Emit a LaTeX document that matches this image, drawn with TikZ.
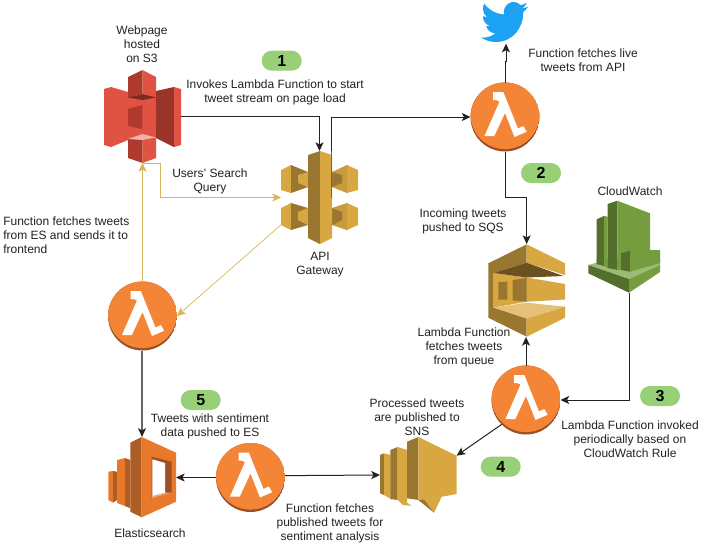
\documentclass[tikz,border=0pt]{standalone}
\usepackage{fontspec}
\setmainfont{Liberation Sans}
\usetikzlibrary{arrows.meta,calc}
\definecolor{txt}{HTML}{222222}
\definecolor{ln}{HTML}{222222}
\definecolor{lnsoft}{HTML}{666666}
\definecolor{yel}{HTML}{D6B656}
\definecolor{pillg}{HTML}{97D077}
\definecolor{rA}{HTML}{E05243}
\definecolor{rB}{HTML}{B0392D}
\definecolor{rC}{HTML}{9A3328}
\definecolor{rD}{HTML}{7C2A20}
\definecolor{rE}{HTML}{F2B0A9}
\definecolor{gA}{HTML}{D9A741}
\definecolor{gF}{HTML}{C99A3B}
\definecolor{gB}{HTML}{997730}
\definecolor{gC}{HTML}{6B5120}
\definecolor{gE}{HTML}{E6C077}
\definecolor{vA}{HTML}{759C3E}
\definecolor{vB}{HTML}{546F2C}
\definecolor{vC}{HTML}{9DBB74}
\definecolor{oA}{HTML}{F58536}
\definecolor{oB}{HTML}{9D5025}
\definecolor{eA}{HTML}{E8792B}
\definecolor{eB}{HTML}{AD5E24}
\definecolor{eC}{HTML}{F2A76E}
\definecolor{tw}{HTML}{1DA1F2}
\tikzset{
  lab/.style={font=\fontsize{9}{10.5}\selectfont,text=txt,align=center,inner sep=0pt},
  pill/.style={rounded corners=7.5pt,fill=pillg,minimum width=30pt,minimum height=15pt,inner sep=0pt,font=\fontsize{12}{14}\selectfont\bfseries},
  box/.style={inner sep=0pt,outer sep=0pt,rectangle},
  lam/.style={circle,inner sep=0pt,outer sep=0pt,minimum size=51.75pt},
  conn/.style={draw=ln,line width=.75pt,-{Stealth[length=6.5pt,width=6pt,inset=1.6pt]}},
  softconn/.style={draw=lnsoft,line width=1pt,-{Stealth[length=6.5pt,width=6pt,inset=1.6pt,color=ln]}},
  yconn/.style={draw=yel,line width=.75pt,-{Stealth[length=6.5pt,width=6pt,inset=1.6pt]}},
  yconnthin/.style={draw=yel,line width=.5pt,-{Stealth[length=6.5pt,width=6pt,inset=1.6pt]}}
}
\newcommand{\lambdaicon}[1]{%
  \begin{scope}[shift={(#1)}]
    \begin{scope}
      \clip (0,0) circle[radius=34.5];
      \fill[oB] (0,0) circle[radius=34.5];
      \fill[oA] (0,-2.4) circle[radius=34.5];
    \end{scope}
    \fill[white] (-12,-25)--(-1.7,-25)--(13,11.5)--(18.3,9)--(21.7,14.7)--(9.5,20)--(0,-4)--(-10.7,19)--(-20.5,19)--(-5.5,-15.5)--(-9,-17)--(-12,-17)--cycle;
  \end{scope}}
\begin{document}
\begin{tikzpicture}[x=.75pt,y=-.75pt]
\fill[white] (0,0) rectangle (704,544);
\useasboundingbox (0,0) rectangle (704,544);
% anchors for the icons
\node[box,minimum width=57.75pt,minimum height=69.75pt] (s3) at (142.5,116.5) {};
\node[box,minimum width=57.75pt,minimum height=69.75pt] (api) at (319.5,197.5) {};
\node[box,minimum width=35pt,minimum height=31pt] (bird) at (505,23) {};
\node[box,minimum width=57.75pt,minimum height=69.75pt] (sqs) at (526.7,290.5) {};
\node[box,minimum width=54pt,minimum height=69pt] (cw) at (624,246.7) {};
\node[box,minimum width=57.5pt,minimum height=57pt] (sns) at (418.3,475) {};
\node[box,minimum width=51pt,minimum height=60.5pt] (es) at (142,477.2) {};
\node[lam] (lamA) at (505,117) {};
\node[lam] (lamB) at (142.5,316) {};
\node[lam] (lamC) at (526,400) {};
\node[lam] (lamD) at (250.5,477.5) {};
% S3
\fill[rA] (128,96)--(156,96)--(156,140)--(128,140)--cycle;
\fill[rA] (104,89)--(111,87)--(128,92)--(128,140)--(111,147)--(104,145)--cycle;
\fill[rC] (156,91)--(174,87)--(174,147)--(156,138)--cycle;
\fill[rA] (181,89)--(174,87)--(174,147)--(181,145)--cycle;
\fill[rB] (128,77)--(142.5,70)--(142.5,94)--(128,97.5)--cycle;
\fill[rA] (156,77)--(142.5,70)--(142.5,94)--(156,97.5)--cycle;
\fill[rD] (128,97.5)--(142.5,94)--(156,97.5)--(142.5,100)--cycle;
\fill[rB] (128,109)--(142.5,105)--(142.5,129)--(128,126)--cycle;
\fill[rA] (156,109)--(142.5,105)--(142.5,129)--(156,126)--cycle;
\fill[rB] (128,139)--(142.5,140)--(142.5,163)--(128,158)--cycle;
\fill[rA] (156,139)--(142.5,140)--(142.5,163)--(156,158)--cycle;
\fill[rE] (128,139)--(142.5,134)--(156,137.5)--(142.5,140)--cycle;
% API gateway
\fill[gA] (281,170)--(291,165)--(291,193)--(281,190)--cycle;
\fill[gB] (291,165)--(308,172)--(308,187)--(291,193)--cycle;
\fill[gA] (358,170)--(347,165)--(347,193)--(358,190)--cycle;
\fill[gF] (347,165)--(332,172)--(332,187)--(347,193)--cycle;
\fill[gA] (281,208)--(291,203)--(291,230)--(281,225)--cycle;
\fill[gB] (291,203)--(308,208)--(308,225)--(291,230)--cycle;
\fill[gA] (358,208)--(347,203)--(347,230)--(358,225)--cycle;
\fill[gF] (347,203)--(332,208)--(332,225)--(347,230)--cycle;
\fill[gA] (298,175)--(308,172)--(308,187)--(298,183)--cycle;
\fill[gA] (298,212)--(308,208)--(308,225)--(298,220)--cycle;
\fill[gB] (342,175)--(332,172)--(332,187)--(342,183)--cycle;
\fill[gB] (342,212)--(332,208)--(332,225)--(342,220)--cycle;
\fill[gB] (308,155)--(320,151)--(320,244)--(308,238)--cycle;
\fill[gA] (332,155)--(320,151)--(320,244)--(332,238)--cycle;
% Twitter
\begin{scope}[shift={(481,-2.6)},xscale=1.96,yscale=2.05]
\fill[tw] (23.953,4.57) .. controls (23.1,4.95) and (22.1,5.22) .. (21.128,5.345)
 .. controls (22.1,4.76) and (22.9,3.78) .. (23.291,2.622)
 .. controls (22.34,3.177) and (21.286,3.581) .. (20.164,3.806)
 .. controls (18.645,2.178) and (16.226,1.781) .. (14.26,2.826)
 .. controls (12.294,3.871) and (11.279,6.119) .. (11.78,8.288)
 .. controls (7.69,8.095) and (4.067,6.13) .. (1.64,3.162)
 .. controls (1.22,3.88) and (0.974,4.73) .. (0.974,5.637)
 .. controls (0.974,7.347) and (1.844,8.85) .. (3.162,9.733)
 .. controls (2.37,9.71) and (1.6,9.49) .. (0.934,9.117)
 -- (0.934,9.177)
 .. controls (0.934,11.56) and (2.63,13.55) .. (4.88,14.004)
 .. controls (4.15,14.2) and (3.4,14.23) .. (2.668,14.089)
 .. controls (3.3,16.07) and (5.15,17.47) .. (7.272,17.506)
 .. controls (5.6,18.82) and (3.47,19.611) .. (1.17,19.611)
 .. controls (0.78,19.611) and (0.391,19.588) .. (0,19.544)
 .. controls (2.18,20.94) and (4.78,21.753) .. (7.557,21.753)
 .. controls (16.61,21.753) and (21.555,14.257) .. (21.555,7.768)
 .. controls (21.555,7.558) and (21.555,7.348) .. (21.54,7.138)
 .. controls (22.5,6.45) and (23.35,5.57) .. (24,4.59) -- cycle;
\end{scope}
% SQS
\fill[gB] (488.3,263.3)--(526.7,244.3)--(526.7,262.7)--(493.5,273)--(493.5,307.5)--(526.7,318.5)--(526.7,336.7)--(488.3,317.7)--cycle;
\fill[gA] (565,263.3)--(526.7,244.3)--(526.7,262.7)--(565,275)--cycle;
\fill[gA] (493.5,273)--(526.7,277.5)--(565,284)--(565,299.5)--(526.7,301.7)--(493.5,307.5)--cycle;
\fill[gC] (493.5,273)--(526.7,262.7)--(563.5,276)--(526.7,277.5)--cycle;
\fill[gB] (498.3,282)--(507.3,281.7)--(507.3,299.5)--(498.3,299.5)--cycle;
\fill[gB] (512.7,280)--(526.7,278)--(526.7,301.7)--(512.7,300.5)--cycle;
\fill[gE] (493.5,307.5)--(526.7,302.7)--(565,306.7)--(526.7,318.5)--cycle;
\fill[gA] (526.7,318.5)--(565,306.7)--(565,317.7)--(526.7,336.7)--cycle;
% CloudWatch
\fill[vC] (588.3,265)--(596.7,262.7)--(596.7,258)--(660,258)--(660,265)--(629,279)--cycle;
\fill[vB] (596.7,219.3)--(604,216)--(604,266)--(596.7,264)--cycle;
\fill[vA] (604,216)--(607.7,216.7)--(607.7,268)--(604,266)--cycle;
\fill[vB] (607.7,204)--(617.3,200.7)--(617.3,270)--(607.7,268)--cycle;
\fill[vA] (617.3,200.7)--(650,213.3)--(650,255)--(630,265)--(621,270)--(617.3,270)--cycle;
\fill[vB] (621,253.3)--(630,250.7)--(630,271.7)--(621,270)--cycle;
\fill[vA] (630,250.7)--(660,250)--(660,263)--(630,271.7)--cycle;
\fill[vB] (588.3,265)--(629,279)--(629,292.7)--(588.3,273.3)--cycle;
\fill[vA] (660,265)--(629,279)--(629,292.7)--(660,272)--cycle;
% SNS
\fill[gB] (380,455)--(384,453.3)--(384,495)--(380,493.3)--cycle;
\fill[gA] (384,453.3)--(390.5,455)--(390.5,496.5)--(392,499.5)--(384,495)--cycle;
\fill[gB] (390.3,450)--(397.7,447)--(397.7,500)--(390.3,499)--cycle;
\fill[gA] (397.7,447)--(407.2,450)--(407.2,503)--(411.7,505.7)--(403,505)--(397.7,500)--cycle;
\fill[gB] (407,441.7)--(418.3,437)--(418.3,500)--(407,498.3)--cycle;
\fill[gA] (418.3,437)--(456.7,455.7)--(456.7,494)--(441.7,496.7)--(434,512.7)--(424,500)--(418.3,500)--cycle;
\fill[gB] (418.3,500)--(424,499.5)--(434,512.7)--cycle;
% Elasticsearch
\fill[eA] (108.3,471.7)--(113,471)--(113,502.7)--(108.3,500)--cycle;
\fill[eB] (113,471)--(117,471.7)--(117,500)--(113,502.7)--cycle;
\fill[eA] (117,460)--(125,458)--(125,506)--(117,503)--cycle;
\fill[eB] (125,458)--(130.3,460)--(130.3,508.3)--(125,506)--cycle;
\fill[eB] (130.3,442.7)--(141.7,437)--(141.7,517.3)--(130.3,511.7)--cycle;
\fill[eA] (141.7,437)--(176,452.7)--(176,501.7)--(141.7,517.3)--cycle;
\fill[oB] (151.7,456.7)--(171.7,461.7)--(171.7,492.7)--(151.7,498.3)--cycle;
\fill[eC] (151.7,498.3)--(171.7,492.7)--(165,492.7)--(152.3,496)--cycle;
\fill[white] (152.3,459.3)--(165,463)--(165,492.7)--(152.3,496)--cycle;
% Lambdas
\lambdaicon{505,117}
\lambdaicon{142.5,316}
\lambdaicon{526,400}
\lambdaicon{250.5,477.5}
% Connectors
\draw[conn] (s3.east) -- (s3.east -| api.north) -- (api.north);
\draw[conn] ([xshift=9pt]api.center) |- (lamA.west);
\draw[draw=lnsoft,line width=.9pt] ([xshift=9pt]api.center) -- ([xshift=9pt]api.north);
\draw[conn] (lamA.north) -- ++(0,-21) -- ++(1,0) -- (bird.south -| 506,0);
\draw[conn] (lamA.south) -- ++(0,46) -| (sqs.north);
\draw[conn] (lamC.north) -- (lamC.north |- sqs.south);
\draw[conn] (cw.south -| 629,0) |- (lamC.east);
\draw[conn] (lamC.south west) -- ([yshift=14.5pt]sns.east);
\draw[conn] ([yshift=1.4pt]lamD.east) -- (sns.west);
\draw[conn] (lamD.west) -- (lamD.west -| es.east);
\draw[softconn] (lamB.south -| es.north) -- (es.north);
\draw[yconn] (lamB.north -| s3.south) -- (s3.south);
\draw[yconn] (s3.south) -- ++(18,0) |- (api.west);
\draw[yconnthin] ([yshift=-20.5pt]api.west) -- (lamB.east);
% Pills
\node[pill] (p1) at (281.7,60.7) {1};
\node[pill] (p2) at (541,173) {2};
\node[pill] (p3) at (660,396) {3};
\node[pill] (p4) at (500.7,466.7) {4};
\node[pill] (p5) at (200.7,400) {5};
% Labels
\node[lab] (t1) at (142,44) {Webpage\\hosted\\on S3};
\node[lab] (t2) at (275,92) {Invokes Lambda Function to start\\tweet stream on page load};
\node[lab] (t3) at (210,181) {Users' Search\\Query};
\node[lab] (t4) at (320,265) {API\\Gateway};
\node[lab,align=left,anchor=west] (t5) at (3,235) {Function fetches tweets\\from ES and sends it to\\frontend};
\node[lab] (t6) at (583,60.5) {Function fetches live\\tweets from API};
\node[lab] (t7) at (463,221) {Incoming tweets\\pushed to SQS};
\node[lab] (t8) at (630,191) {CloudWatch};
\node[lab] (t9) at (464,347) {Lambda Function\\fetches tweets\\from queue};
\node[lab] (t10) at (630,439) {Lambda Function invoked\\periodically based on\\CloudWatch Rule};
\node[lab] (t11) at (417,417) {Processed tweets\\are published to\\SNS};
\node[lab] (t12) at (210,426.5) {Tweets with sentiment\\data pushed to ES};
\node[lab] (t13) at (150,533) {Elasticsearch};
\node[lab] (t14) at (330,523) {Function fetches\\published tweets for\\sentiment analysis};
\end{tikzpicture}
\end{document}
